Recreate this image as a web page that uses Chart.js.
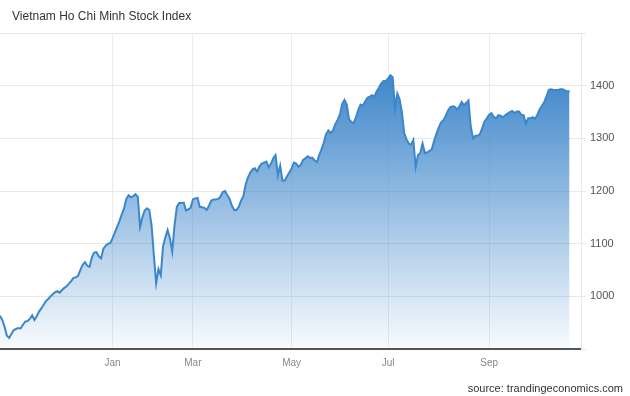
<!DOCTYPE html>
<html>
<head>
<meta charset="utf-8">
<script src="https://cdn.jsdelivr.net/npm/chart.js@4/dist/chart.umd.min.js"></script>
<style>
    body { margin: 0; background: #fff; }
    #wrap { position: relative; width: 630px; height: 396px; }
    #title { position: absolute; left: 12px; top: 9px; font: 12px "Liberation Sans", Arial, sans-serif; color: #333; }
    #source { position: absolute; right: 7px; bottom: 2px; font: 11px "Liberation Sans", Arial, sans-serif; color: #333; }
</style>
</head>
<body>
<div id="wrap">
    <canvas id="mainChart" width="630" height="396"></canvas>
    <div id="title">Vietnam Ho Chi Minh Stock Index</div>
    <div id="source">source: trandingeconomics.com</div>
</div>
<script>
// 月份刻度 (交易日序号)
const monthNames = ['Jan', 'Mar', 'May', 'Jul', 'Sep'];
const monthStartDay = [49, 84, 127, 169, 213];

// 每个交易日收盘 (Oct 2020 - Oct 2021)
const closes = [
    963, 955, 942, 925, 921, 929, 936, 938, 940, 939,
    946, 952, 953, 957, 964, 955, 962, 971, 977, 984,
    991, 995, 1000, 1004, 1008, 1010, 1007, 1012, 1016, 1019,
    1024, 1029, 1035, 1036, 1039, 1050, 1060, 1065, 1058, 1056,
    1074, 1083, 1084, 1076, 1072, 1090, 1096, 1100, 1101, 1110,
    1121, 1132, 1143, 1155, 1167, 1185, 1192, 1188, 1190, 1194,
    1189, 1132, 1150, 1163, 1167, 1164, 1135, 1078, 1025, 1052,
    1040, 1095, 1112, 1126, 1110, 1085, 1135, 1170, 1177, 1177,
    1178, 1163, 1165, 1168, 1184, 1186, 1187, 1170, 1169, 1168,
    1164, 1172, 1182, 1184, 1184, 1185, 1189, 1198, 1200, 1192,
    1185, 1172, 1164, 1164, 1170, 1182, 1190, 1213, 1226, 1235,
    1241, 1243, 1237, 1247, 1252, 1254, 1256, 1245, 1252, 1262,
    1268, 1230, 1248, 1220, 1220, 1228, 1235, 1243, 1254, 1252,
    1246, 1250, 1259, 1262, 1266, 1263, 1263, 1258, 1255, 1268,
    1279, 1292, 1308, 1315, 1310, 1315, 1327, 1335, 1345, 1365,
    1373, 1364, 1336, 1331, 1329, 1340, 1354, 1364, 1362, 1370,
    1377, 1379, 1382, 1379, 1389, 1396, 1404, 1409, 1409, 1414,
    1420, 1416, 1357, 1385, 1374, 1350, 1310, 1298, 1290, 1288,
    1297, 1246, 1268, 1272, 1290, 1272, 1273, 1276, 1279, 1295,
    1308, 1320, 1330, 1334, 1342, 1352, 1359, 1361, 1360, 1355,
    1360, 1369, 1363, 1367, 1372, 1322, 1300, 1305, 1305, 1308,
    1320, 1332, 1338, 1345, 1348, 1341, 1338, 1344, 1343, 1340,
    1344, 1347, 1350, 1352, 1348, 1351, 1351, 1345, 1344, 1328,
    1338, 1338, 1340, 1337, 1345, 1355, 1362, 1369, 1380, 1392,
    1393, 1392, 1392, 1392, 1393, 1393, 1391, 1389, 1390
];

const yMin = 900;
const yMax = 1500;
const hiddenYTicks = [900, 1500];

function areaGradient(context) {
    const chart = context.chart;
    const area = chart.chartArea;
    if (!area) return 'rgba(66, 135, 200, 0.5)';
    const g = chart.ctx.createLinearGradient(0, area.top + 40, 0, area.bottom);
    g.addColorStop(0, 'rgba(62, 134, 202, 1)');
    g.addColorStop(1, 'rgba(62, 134, 202, 0.03)');
    return g;
}

const ctx = document.getElementById('mainChart').getContext('2d');
new Chart(ctx, {
    type: 'line',
    data: {
        datasets: [{
            data: closes.map((v, i) => ({ x: i, y: v })),
            borderColor: '#3a87cc',
            borderWidth: 2,
            backgroundColor: areaGradient,
            fill: 'start',
            pointRadius: 0,
            tension: 0
        }]
    },
    options: {
        responsive: false,
        animation: false,
        layout: { padding: { left: 0, top: 33, right: 0, bottom: 0 } },
        plugins: {
            legend: { display: false },
            tooltip: { enabled: false }
        },
        scales: {
            x: {
                type: 'linear',
                min: 0,
                max: 253,
                afterBuildTicks: scale => {
                    scale.ticks = monthStartDay.map(v => ({ value: v }));
                },
                afterFit: scale => { scale.height = 47; },
                ticks: {
                    callback: value => monthNames[monthStartDay.indexOf(value)] || '',
                    color: '#888',
                    font: { family: '"Liberation Sans", Arial, sans-serif', size: 10 },
                    padding: 8,
                    maxRotation: 0
                },
                grid: { color: '#ececec', lineWidth: 1, drawTicks: false },
                border: { color: '#555', width: 2 }
            },
            y: {
                position: 'right',
                min: yMin,
                max: yMax,
                afterFit: scale => { scale.width = 49; },
                ticks: {
                    stepSize: 100,
                    callback: value => hiddenYTicks.includes(value) ? '' : value,
                    color: '#555',
                    font: { family: '"Liberation Sans", Arial, sans-serif', size: 11 },
                    padding: 4
                },
                grid: { color: '#e8e8e8', lineWidth: 1, tickLength: 5 },
                border: { color: '#e8e8e8', width: 1 }
            }
        }
    }
});
</script>
</body>
</html>
